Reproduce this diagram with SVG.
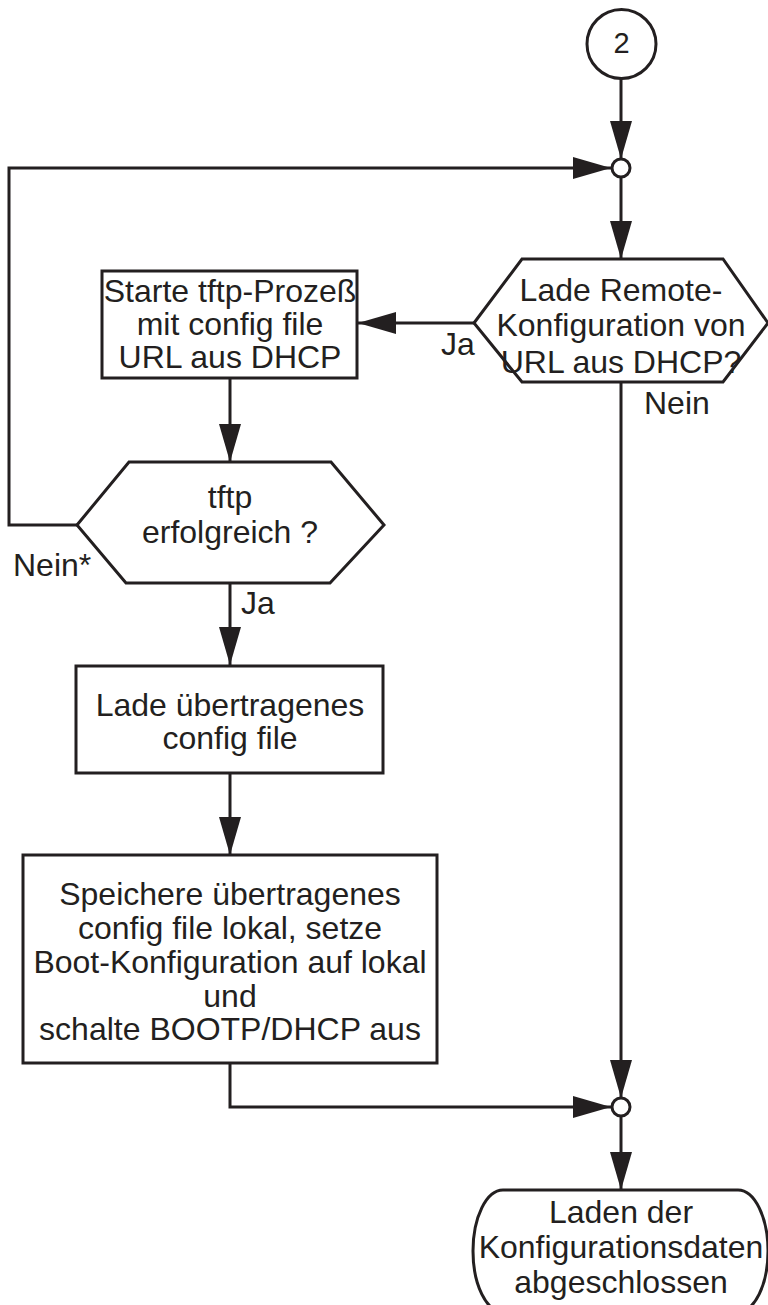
<svg xmlns="http://www.w3.org/2000/svg" width="768" height="1305" viewBox="0 0 768 1305">
<style>
.s{fill:#fff;stroke:#231f20;stroke-width:3}
.c{fill:none;stroke:#231f20;stroke-width:3}
text{font-family:"Liberation Sans",Arial,sans-serif;font-size:32px;fill:#231f20}
.m{text-anchor:middle}
</style>
<defs>
<marker id="ah" markerUnits="userSpaceOnUse" markerWidth="38" markerHeight="22" refX="38" refY="11" orient="auto">
<path d="M0,0 L38,11 L0,22 Z" fill="#231f20"/>
</marker>
</defs>
<rect width="768" height="1305" fill="#fff"/>
<g id="connectors">
<line class="c" x1="621" y1="78" x2="621" y2="159" marker-end="url(#ah)"/>
<polyline class="c" points="77,525 9,525 9,168 611,168" marker-end="url(#ah)"/>
<line class="c" x1="621" y1="177" x2="621" y2="259" marker-end="url(#ah)"/>
<line class="c" x1="474" y1="323" x2="358" y2="323" marker-end="url(#ah)"/>
<line class="c" x1="230" y1="378" x2="230" y2="462" marker-end="url(#ah)"/>
<line class="c" x1="230" y1="583" x2="230" y2="665" marker-end="url(#ah)"/>
<line class="c" x1="230" y1="773" x2="230" y2="855" marker-end="url(#ah)"/>
<polyline class="c" points="230,1063 230,1107 611,1107" marker-end="url(#ah)"/>
<line class="c" x1="621" y1="382" x2="621" y2="1098" marker-end="url(#ah)"/>
<line class="c" x1="621" y1="1116" x2="621" y2="1190" marker-end="url(#ah)"/>
<text x="441" y="355">Ja</text>
<text x="644" y="414">Nein</text>
<text x="13" y="576">Nein*</text>
<text x="241" y="614">Ja</text>
</g>
<g id="start2">
<circle class="s" cx="621.5" cy="44" r="34.5"/>
<text class="m" x="621.5" y="53" style="font-size:29px">2</text>
</g>
<g id="junction1"><circle class="s" cx="621" cy="168" r="9"/></g>
<g id="dec-remote">
<polygon class="s" points="474,323 522,259 723,259 768,323 723,382 522,382"/>
<text class="m" x="621" y="301">Lade Remote-</text>
<text class="m" x="621" y="336">Konfiguration von</text>
<text class="m" x="621" y="373">URL aus DHCP?</text>
</g>
<g id="start-tftp">
<rect class="s" x="102" y="271" width="255" height="107"/>
<text class="m" x="230" y="302">Starte tftp-Prozeß</text>
<text class="m" x="230" y="335">mit config file</text>
<text class="m" x="230" y="368">URL aus DHCP</text>
</g>
<g id="dec-tftp">
<polygon class="s" points="77,525 129,462 331,462 384,525 330,583 126,583"/>
<text class="m" x="230" y="508">tftp</text>
<text class="m" x="230" y="543">erfolgreich ?</text>
</g>
<g id="load-file">
<rect class="s" x="76" y="666" width="307" height="107"/>
<text class="m" x="230" y="716">Lade übertragenes</text>
<text class="m" x="230" y="749">config file</text>
</g>
<g id="save-file">
<rect class="s" x="23" y="855" width="414" height="208"/>
<text class="m" x="230" y="905">Speichere übertragenes</text>
<text class="m" x="230" y="939">config file lokal, setze</text>
<text class="m" x="230" y="973">Boot-Konfiguration auf lokal</text>
<text class="m" x="230" y="1007">und</text>
<text class="m" x="230" y="1040">schalte BOOTP/DHCP aus</text>
</g>
<g id="junction2"><circle class="s" cx="621" cy="1107" r="9"/></g>
<g id="end">
<rect class="s" x="473" y="1190" width="295" height="122" rx="30" ry="61"/>
<text class="m" x="621" y="1223">Laden der</text>
<text class="m" x="621" y="1258">Konfigurationsdaten</text>
<text class="m" x="621" y="1293">abgeschlossen</text>
</g>
</svg>
